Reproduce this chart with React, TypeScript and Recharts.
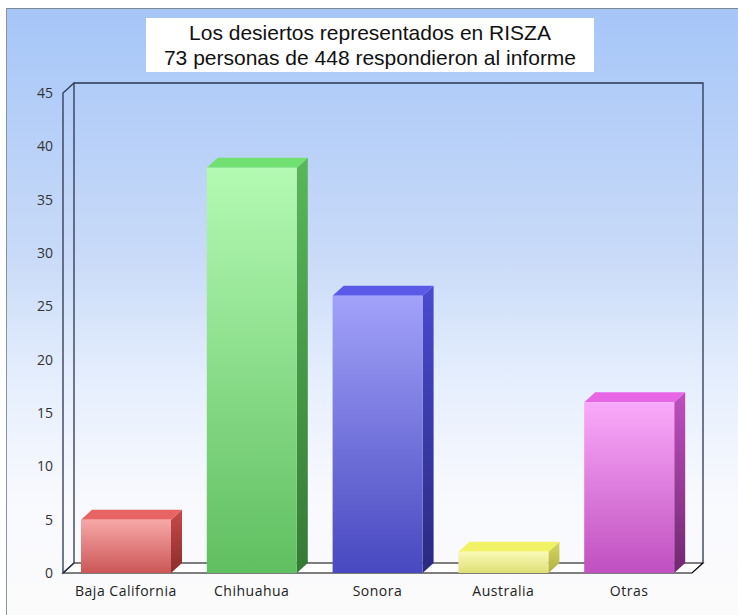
import React from 'react';
import { BarChart, Bar, XAxis, YAxis, ReferenceArea } from 'recharts';

const categories = ['Baja California', 'Chihuahua', 'Sonora', 'Australia', 'Otras'];
const values = [5, 38, 26, 2, 16];
const yTicks = [0, 5, 10, 15, 20, 25, 30, 35, 40, 45];
const titleLines = ['Los desiertos representados en RISZA', '73 personas de 448 respondieron al informe'];

// front top, front bottom, top face, side top, side bottom
const palette = [
  ['#f7a8a8', '#cc5656', '#e86464', '#c84a4a', '#8c2c2c'],
  ['#b4fab4', '#60bf60', '#70e070', '#58b858', '#357a35'],
  ['#a2a2fa', '#4848c0', '#5a5ae8', '#4a4ad0', '#2a2a80'],
  ['#fafab8', '#dede76', '#f2f266', '#d8d860', '#b0b040'],
  ['#faaafa', '#c050c0', '#e666e6', '#c04ec0', '#702870'],
];

const data = categories.map((name, i) => ({ name, value: values[i] }));

const DX = 11;
const DY = 10;

const Bar3D = (props: any) => {
  const { x, y, width, height, index } = props;
  if (width == null || height == null) return null;
  const i = index ?? 0;
  return (
    <g>
      <polygon
        points={`${x + width},${y} ${x + width + DX},${y - DY} ${x + width + DX},${y + height - DY} ${x + width},${y + height}`}
        fill={`url(#side${i})`}
      />
      <polygon
        points={`${x},${y} ${x + DX},${y - DY} ${x + width + DX},${y - DY} ${x + width},${y}`}
        fill={palette[i][2]}
      />
      <rect x={x} y={y} width={width} height={height} fill={`url(#front${i})`} />
    </g>
  );
};

const Box3D = (props: any) => {
  const { x, y, width, height } = props;
  const X = x, Y = y, W = width, H = height;
  const line = '#2b3550';
  return (
    <g>
      <polygon
        points={`${X},${Y + H} ${X + DX},${Y + H - DY} ${X + W + DX},${Y + H - DY} ${X + W},${Y + H}`}
        fill="#ffffff"
        stroke="#000"
        strokeWidth={1.2}
      />
      <polyline
        points={`${X + DX},${Y + H - DY} ${X + DX},${Y - DY} ${X + W + DX},${Y - DY} ${X + W + DX},${Y + H - DY}`}
        fill="none"
        stroke={line}
        strokeWidth={1.3}
      />
      <polyline
        points={`${X + DX},${Y - DY} ${X},${Y} ${X},${Y + H} ${X + DX},${Y + H - DY}`}
        fill="none"
        stroke={line}
        strokeWidth={1.3}
      />
    </g>
  );
};

export default function App() {
  return (
    <div style={{ position: 'absolute', left: 0, top: 0, width: 738, height: 615, background: '#ffffff', overflow: 'hidden' }}>
      <div
        style={{
          position: 'absolute',
          left: 6,
          top: 8,
          width: 732,
          height: 607,
          borderTop: '1px solid #7c8896',
          borderLeft: '1px solid #8a949e',
          background: 'linear-gradient(to bottom, #a6c6f8 0%, #c8daf8 40%, #e6effd 62%, #f8f9fe 80%, #fbfbfb 100%)',
        }}
      />
      <div
        style={{
          position: 'absolute',
          left: 146,
          top: 18,
          width: 448,
          height: 54,
          background: '#ffffff',
          fontFamily: 'Liberation Sans, Arial, sans-serif',
          fontSize: 21,
          lineHeight: '25px',
          color: '#111',
          textAlign: 'center',
          paddingTop: 2,
          boxSizing: 'border-box',
        }}
      >
        <div>{titleLines[0]}</div>
        <div>{titleLines[1]}</div>
      </div>
      <div style={{ position: 'absolute', left: 0, top: 0 }}>
        <BarChart width={738} height={615} data={data} margin={{ top: 93, right: 46, left: 23, bottom: 12 }}>
          <defs>
            {palette.map((c, i) => (
              <linearGradient key={`f${i}`} id={`front${i}`} x1="0" y1="0" x2="0" y2="1">
                <stop offset="0%" stopColor={c[0]} />
                <stop offset="100%" stopColor={c[1]} />
              </linearGradient>
            ))}
            {palette.map((c, i) => (
              <linearGradient key={`s${i}`} id={`side${i}`} x1="0" y1="0" x2="0" y2="1">
                <stop offset="0%" stopColor={c[3]} />
                <stop offset="100%" stopColor={c[4]} />
              </linearGradient>
            ))}
          </defs>
          <ReferenceArea y1={0} y2={45} shape={<Box3D />} ifOverflow="visible" />
          <XAxis
            dataKey="name"
            axisLine={false}
            tickLine={false}
            tickMargin={7}
            height={30}
            interval={0}
            tick={{ fill: '#222', fontSize: 14, fontFamily: 'Open Sans', letterSpacing: 0.5 }}
          />
          <YAxis
            domain={[0, 45]}
            ticks={yTicks}
            interval={0}
            width={40}
            axisLine={false}
            tickLine={false}
            tickMargin={4}
            tick={{ fill: '#333', fontSize: 14, fontFamily: 'Open Sans' }}
          />
          <Bar dataKey="value" barSize={90} shape={<Bar3D />} isAnimationActive={false} />
        </BarChart>
      </div>
    </div>
  );
}
